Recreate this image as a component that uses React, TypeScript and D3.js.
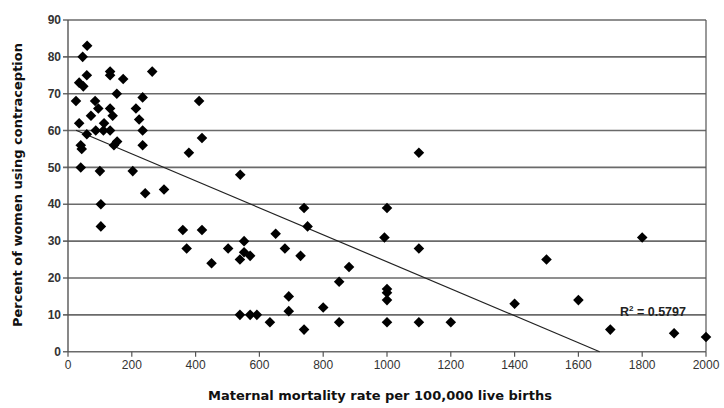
import React, { useEffect, useRef } from 'react';
import * as d3 from 'd3';

// Maternal mortality per 100,000 live births (x) and % women using contraception (y)
const mortalityRate = [
  25, 35, 35, 40, 40, 43, 46, 48, 59, 59, 60, 72, 85, 87, 95, 100, 103, 103, 111, 113,
  132, 132, 132, 132, 140, 144, 153, 154, 173, 203, 213, 223, 234, 234, 234, 242, 264, 301,
  360, 372, 379, 411, 420, 420, 450, 502, 539, 540, 552, 552, 571, 539, 571, 592, 633, 651,
  680, 692, 692, 729, 740, 740, 751, 800, 850, 850, 881, 992, 1000, 1000, 1000, 1000, 1000,
  1100, 1100, 1100, 1200, 1400, 1500, 1600, 1700, 1800, 1900, 2000,
];
const contraceptionPct = [
  68, 62, 73, 50, 56, 55, 80, 72, 75, 59, 83, 64, 68, 60, 66, 49, 40, 34, 60, 62,
  60, 76, 75, 66, 64, 56, 70, 57, 74, 49, 66, 63, 69, 60, 56, 43, 76, 44,
  33, 28, 54, 68, 58, 33, 24, 28, 25, 48, 30, 27, 26, 10, 10, 10, 8, 32,
  28, 15, 11, 26, 39, 6, 34, 12, 19, 8, 23, 31, 39, 17, 16, 14, 8,
  54, 28, 8, 8, 13, 25, 14, 6, 31, 5, 4,
];

const xTicks = [0, 200, 400, 600, 800, 1000, 1200, 1400, 1600, 1800, 2000];
const yTicks = [0, 10, 20, 30, 40, 50, 60, 70, 80, 90];

// linear trend line as shown on the chart
const trendIntercept = 61.0;
const trendSlope = -0.0366;
const rSquaredLabel = 'R² = 0.5797';

const App = () => {
  const ref = useRef<SVGSVGElement>(null);

  useEffect(() => {
    const svg = d3.select(ref.current);
    svg.selectAll('*').remove();

    const left = 68;
    const right = 706;
    const top = 20;
    const bottom = 351.7;
    const font = '"Liberation Sans", Arial, sans-serif';
    const titleFont = '"DejaVu Sans", sans-serif';

    const x = d3.scaleLinear().domain([0, 2000]).range([left, right]);
    const y = d3.scaleLinear().domain([0, 90]).range([bottom, top]);

    // horizontal gridlines
    svg.append('g')
      .selectAll('line')
      .data(yTicks)
      .enter().append('line')
      .attr('x1', left - 5)
      .attr('x2', right)
      .attr('y1', d => y(d))
      .attr('y2', d => y(d))
      .attr('stroke', '#6a6a6a')
      .attr('stroke-width', 1.6);

    // left axis and right border
    svg.append('line')
      .attr('x1', left).attr('x2', left)
      .attr('y1', top).attr('y2', bottom)
      .attr('stroke', '#555').attr('stroke-width', 1.4);
    svg.append('line')
      .attr('x1', right).attr('x2', right)
      .attr('y1', top).attr('y2', bottom)
      .attr('stroke', '#555').attr('stroke-width', 1.2);

    // x ticks
    svg.append('g')
      .selectAll('line')
      .data(xTicks)
      .enter().append('line')
      .attr('x1', d => x(d))
      .attr('x2', d => x(d))
      .attr('y1', bottom)
      .attr('y2', bottom + 5)
      .attr('stroke', '#555')
      .attr('stroke-width', 1.2);

    svg.append('g')
      .selectAll('text')
      .data(xTicks)
      .enter().append('text')
      .attr('x', d => x(d))
      .attr('y', bottom + 17)
      .attr('text-anchor', 'middle')
      .attr('font-family', font)
      .attr('font-size', 12)
      .attr('fill', '#333')
      .text(d => d);

    svg.append('g')
      .selectAll('text')
      .data(yTicks)
      .enter().append('text')
      .attr('x', left - 7)
      .attr('y', d => y(d))
      .attr('dy', '0.35em')
      .attr('text-anchor', 'end')
      .attr('font-family', font)
      .attr('font-size', 12)
      .attr('font-weight', 'bold')
      .attr('fill', '#333')
      .text(d => d);

    // trend line, clipped at y = 0
    const xStart = d3.min(mortalityRate) as number;
    const xEnd = -trendIntercept / trendSlope;
    const line = d3.line<number>()
      .x(d => x(d))
      .y(d => y(trendIntercept + trendSlope * d));
    svg.append('path')
      .datum([xStart, xEnd])
      .attr('d', line)
      .attr('fill', 'none')
      .attr('stroke', '#222')
      .attr('stroke-width', 1.2);

    // data points (diamonds)
    const diamond = d3.symbol().type(d3.symbolSquare).size(56);
    svg.append('g')
      .selectAll('path')
      .data(mortalityRate.map((m, i) => [m, contraceptionPct[i]]))
      .enter().append('path')
      .attr('d', diamond)
      .attr('transform', d => `translate(${x(d[0])},${y(d[1])}) rotate(45)`)
      .attr('fill', '#000');

    // R² label
    const r2 = svg.append('text')
      .attr('x', 620)
      .attr('y', 316)
      .attr('font-family', font)
      .attr('font-size', 12.5)
      .attr('font-weight', 'bold')
      .attr('fill', '#222');
    r2.append('tspan').text('R');
    r2.append('tspan').attr('dy', -5).attr('font-size', 8).text('2');
    r2.append('tspan').attr('dy', 5).text(' = 0.5797');
    r2.append('title').text(rSquaredLabel);

    // axis titles
    svg.append('text')
      .attr('transform', `translate(22,185) rotate(-90)`)
      .attr('text-anchor', 'middle')
      .attr('font-family', titleFont)
      .attr('font-size', 13)
      .attr('font-weight', 'bold')
      .attr('fill', '#111')
      .text('Percent of women using contraception');

    svg.append('text')
      .attr('x', 380)
      .attr('y', 400)
      .attr('text-anchor', 'middle')
      .attr('font-family', titleFont)
      .attr('font-size', 13)
      .attr('font-weight', 'bold')
      .attr('fill', '#111')
      .text('Maternal mortality rate per 100,000 live births');
  }, []);

  return (
    <svg
      ref={ref}
      width={724}
      height={408}
      style={{ position: 'absolute', left: 0, top: 0, background: '#fff' }}
    />
  );
};

export default App;
